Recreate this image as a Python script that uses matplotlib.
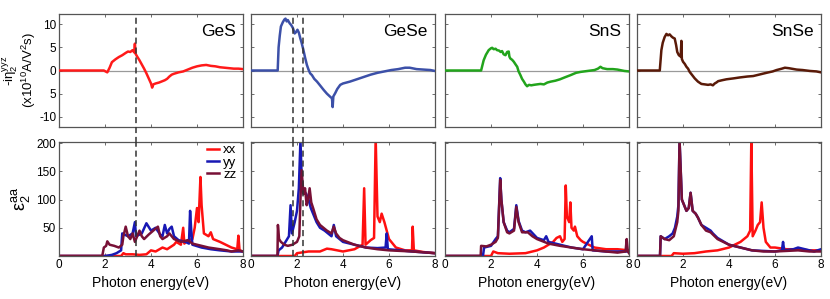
import numpy as np
import matplotlib
matplotlib.use("Agg")
import matplotlib.pyplot as plt

plt.rcParams['font.family'] = ['Liberation Sans', 'DejaVu Sans']
plt.rcParams['mathtext.default'] = 'regular'

materials = ['GeS', 'GeSe', 'SnS', 'SnSe']

# shift current -i eta_2^yyz (x10^10 A/V^2 s) as (eV, value)
ges_eta = [(0, 0), (1.95, 0), (2.1, -0.4), (2.2, 0.6), (2.3, 1.8), (2.45, 2.4), (2.6, 2.9), (2.75, 3.3),
           (2.9, 3.8), (3.0, 4.1), (3.1, 4.0), (3.2, 4.4), (3.27, 3.9), (3.3, 5.8), (3.33, 3.6), (3.4, 3.0),
           (3.5, 2.2), (3.6, 1.3), (3.7, 0.4), (3.8, -0.6), (3.9, -1.7), (4.0, -2.8), (4.05, -3.7), (4.1, -3.0),
           (4.2, -2.8), (4.35, -2.6), (4.5, -2.3), (4.6, -2.1), (4.7, -1.8), (4.8, -1.3), (4.9, -0.9), (5.0, -0.7),
           (5.2, -0.4), (5.4, -0.2), (5.6, 0.2), (5.8, 0.6), (6.0, 0.9), (6.2, 1.1), (6.4, 1.2), (6.6, 1.0),
           (6.8, 0.9), (7.0, 0.7), (7.2, 0.6), (7.4, 0.5), (7.6, 0.4), (7.8, 0.4), (8.0, 0.3)]
gese_eta = [(0, 0), (1.16, 0), (1.2, 5.0), (1.25, 7.5), (1.3, 9.5), (1.38, 10.4), (1.45, 11.0), (1.5, 11.2),
            (1.55, 10.6), (1.6, 10.9), (1.68, 10.2), (1.75, 9.8), (1.82, 9.2), (1.9, 8.0), (1.96, 8.3),
            (2.02, 8.8), (2.08, 8.2), (2.14, 7.0), (2.2, 6.0), (2.28, 4.4), (2.35, 2.8), (2.43, 1.2), (2.5, 0.2),
            (2.57, -0.6), (2.65, -1.0), (2.75, -1.8), (2.87, -2.4), (3.0, -3.2), (3.16, -4.2), (3.3, -5.0),
            (3.45, -5.7), (3.52, -6.0), (3.55, -7.9), (3.58, -5.6), (3.66, -4.9), (3.75, -4.0), (3.88, -3.1),
            (4.0, -2.8), (4.3, -2.4), (4.6, -1.9), (4.9, -1.4), (5.2, -0.9), (5.5, -0.5), (5.8, -0.2), (6.1, 0.1),
            (6.4, 0.3), (6.7, 0.6), (6.9, 0.6), (7.2, 0.3), (7.5, 0.2), (7.8, 0.1), (8.0, -0.1)]
sns_eta = [(0, 0), (1.57, 0), (1.62, 1.0), (1.68, 2.2), (1.78, 3.4), (1.9, 4.4), (2.0, 4.8), (2.05, 4.9),
           (2.12, 4.6), (2.2, 4.7), (2.26, 4.4), (2.35, 4.3), (2.42, 4.0), (2.48, 4.2), (2.55, 3.5), (2.63, 3.3),
           (2.7, 4.0), (2.77, 4.1), (2.8, 3.0), (2.84, 2.6), (2.92, 2.3), (2.99, 1.9), (3.07, 1.3), (3.14, 0.8),
           (3.2, -0.2), (3.28, -1.0), (3.35, -1.8), (3.43, -2.4), (3.5, -3.0), (3.57, -3.4), (3.65, -3.1),
           (3.75, -3.2), (3.86, -3.1), (4.0, -3.0), (4.15, -2.9), (4.3, -3.0), (4.45, -2.6), (4.6, -2.4),
           (4.8, -2.2), (5.0, -1.9), (5.2, -1.5), (5.46, -1.0), (5.7, -0.5), (5.9, -0.3), (6.2, -0.1), (6.5, 0.1),
           (6.65, 0.4), (6.76, 0.8), (6.85, 0.5), (7.05, 0.3), (7.3, 0.3), (7.5, 0.2), (7.8, -0.1), (8.0, -0.2)]
snse_eta = [(0, 0), (0.99, 0), (1.03, 2.5), (1.06, 4.4), (1.12, 6.0), (1.2, 7.2), (1.28, 7.9), (1.35, 7.6),
            (1.42, 7.8), (1.49, 7.4), (1.56, 7.1), (1.64, 6.9), (1.7, 5.5), (1.75, 4.0), (1.82, 3.3), (1.9, 3.0),
            (1.93, 6.4), (1.95, 2.5), (2.0, 1.9), (2.08, 1.4), (2.15, 0.8), (2.22, 0.4), (2.29, -0.3), (2.4, -1.0),
            (2.51, -1.7), (2.65, -2.4), (2.8, -2.9), (2.95, -3.0), (3.09, -3.1), (3.2, -3.0), (3.3, -3.2),
            (3.38, -2.8), (3.45, -2.6), (3.53, -2.3), (3.7, -2.1), (3.89, -1.9), (4.2, -1.7), (4.47, -1.5),
            (4.8, -1.3), (5.05, -1.2), (5.3, -0.9), (5.63, -0.5), (5.9, -0.2), (6.07, 0.1), (6.3, 0.4),
            (6.43, 0.6), (6.6, 0.5), (6.94, 0.2), (7.2, 0.1), (7.52, -0.1), (7.8, -0.2), (8.0, -0.4)]

# dielectric function eps_2^aa, (eV, value)
ges_xx = [(0, 0), (2.7, 0), (2.8, 5), (2.9, 3), (3.2, 3), (3.5, 2), (3.8, 3), (4.0, 10), (4.2, 8), (4.5, 15),
          (4.7, 12), (5.0, 20), (5.1, 25), (5.3, 20), (5.4, 50), (5.45, 22), (5.6, 28), (5.8, 30), (5.9, 50),
          (6.0, 85), (6.07, 60), (6.15, 140), (6.2, 90), (6.3, 40), (6.5, 35), (6.6, 42), (6.7, 30), (7.0, 25),
          (7.5, 15), (7.75, 12), (7.8, 36), (7.85, 10), (8.0, 8)]
ges_yy = [(0, 0), (2.0, 0), (2.3, 2), (2.5, 5), (2.7, 10), (2.75, 40), (3.0, 35), (3.2, 40), (3.3, 60),
          (3.35, 35), (3.6, 40), (3.8, 58), (4.0, 45), (4.2, 50), (4.4, 38), (4.5, 35), (4.6, 55), (4.7, 40),
          (4.8, 48), (4.9, 52), (5.0, 35), (5.2, 28), (5.5, 25), (5.65, 22), (5.7, 80), (5.75, 45), (5.8, 20),
          (6.2, 15), (6.6, 12), (7.0, 10), (7.5, 8), (8.0, 8)]
ges_zz = [(0, 0), (1.88, 0), (1.95, 15), (2.05, 18), (2.1, 26), (2.2, 20), (2.4, 18), (2.6, 15), (2.75, 20),
          (2.8, 35), (2.9, 52), (3.0, 35), (3.1, 30), (3.2, 40), (3.3, 25), (3.4, 35), (3.5, 45), (3.6, 35),
          (3.7, 30), (3.9, 38), (4.1, 45), (4.3, 52), (4.4, 35), (4.5, 30), (4.7, 35), (4.8, 40), (5.0, 30),
          (5.3, 25), (5.6, 28), (5.8, 22), (6.0, 20), (6.5, 15), (7.0, 12), (7.3, 10), (7.5, 8), (7.8, 10),
          (8.0, 8)]
gese_xx = [(0, 0), (1.9, 0), (2.0, 5), (2.5, 8), (3.0, 8), (3.3, 13), (3.5, 12), (4.0, 8), (4.5, 12),
           (4.85, 20), (4.92, 120), (4.98, 20), (5.2, 28), (5.35, 32), (5.42, 210), (5.5, 70), (5.6, 60),
           (5.68, 75), (5.8, 60), (5.9, 45), (6.0, 30), (6.3, 15), (6.7, 10), (7.0, 10), (7.03, 52), (7.08, 10),
           (7.5, 7), (8.0, 5)]
gese_yy = [(0, 0), (1.15, 0), (1.2, 10), (1.35, 15), (1.5, 25), (1.65, 35), (1.72, 90), (1.78, 40), (1.9, 60),
           (2.0, 80), (2.08, 120), (2.15, 205), (2.22, 120), (2.3, 115), (2.4, 110), (2.5, 100), (2.6, 85),
           (2.7, 75), (2.85, 60), (3.0, 50), (3.2, 45), (3.5, 35), (3.6, 55), (3.7, 35), (4.0, 25), (4.5, 20),
           (5.0, 15), (5.5, 14), (5.85, 15), (5.9, 40), (5.95, 12), (6.5, 10), (7.0, 8), (8.0, 5)]
gese_zz = [(0, 0), (1.15, 0), (1.17, 55), (1.22, 30), (1.3, 25), (1.45, 20), (1.6, 18), (1.8, 20), (2.0, 25),
           (2.1, 35), (2.15, 100), (2.2, 152), (2.28, 110), (2.35, 120), (2.42, 90), (2.48, 100), (2.55, 120),
           (2.62, 95), (2.7, 85), (2.85, 65), (3.0, 55), (3.15, 50), (3.3, 45), (3.5, 40), (3.6, 52), (3.7, 40),
           (3.85, 32), (4.0, 28), (4.5, 20), (5.0, 15), (5.5, 12), (6.0, 10), (7.0, 8), (8.0, 5)]
sns_xx = [(0, 0), (2.0, 0), (2.1, 8), (2.3, 5), (2.8, 4), (3.5, 5), (4.0, 10), (4.3, 15), (4.5, 20), (4.7, 25),
          (4.85, 32), (5.0, 35), (5.1, 25), (5.2, 30), (5.25, 125), (5.3, 70), (5.4, 60), (5.45, 95), (5.5, 50),
          (5.6, 45), (5.65, 52), (5.75, 35), (5.9, 28), (6.0, 25), (6.5, 15), (7.0, 12), (7.5, 12), (8.0, 10)]
sns_yy = [(0, 0), (1.65, 0), (1.7, 15), (2.0, 18), (2.2, 30), (2.3, 35), (2.4, 138), (2.45, 100), (2.55, 60),
          (2.7, 45), (2.8, 42), (3.0, 48), (3.1, 90), (3.2, 62), (3.35, 45), (3.5, 42), (3.7, 45), (4.0, 32),
          (4.3, 28), (4.4, 35), (4.5, 25), (5.0, 20), (5.5, 15), (6.0, 12), (6.38, 35), (6.42, 10), (7.0, 8),
          (7.5, 8), (8.0, 8)]
sns_zz = [(0, 0), (1.55, 0), (1.57, 18), (1.8, 17), (2.0, 20), (2.2, 25), (2.3, 32), (2.4, 135), (2.45, 100),
          (2.55, 60), (2.7, 42), (2.8, 40), (3.0, 45), (3.1, 87), (3.2, 60), (3.35, 42), (3.6, 42), (3.8, 35),
          (4.0, 30), (4.5, 22), (5.0, 18), (5.5, 15), (6.0, 12), (6.5, 10), (7.0, 8), (7.5, 6), (7.85, 8),
          (7.9, 30), (7.95, 8), (8.0, 5)]
snse_xx = [(0, 0), (1.5, 0), (1.6, 5), (2.0, 4), (2.5, 5), (3.0, 8), (3.5, 10), (4.0, 15), (4.5, 25), (4.8, 35),
           (4.92, 45), (4.97, 205), (5.03, 35), (5.15, 45), (5.25, 55), (5.35, 60), (5.42, 95), (5.5, 50),
           (5.6, 25), (5.8, 15), (6.0, 15), (6.5, 12), (7.0, 12), (7.5, 10), (8.0, 10)]
snse_yy = [(0, 0), (1.0, 0), (1.03, 35), (1.2, 30), (1.4, 35), (1.55, 40), (1.65, 50), (1.75, 70), (1.8, 90),
           (1.85, 205), (1.95, 100), (2.05, 90), (2.15, 80), (2.25, 85), (2.33, 112), (2.42, 80), (2.55, 75),
           (2.65, 68), (2.8, 55), (3.0, 50), (3.2, 45), (3.3, 40), (3.5, 32), (4.0, 20), (4.5, 15), (5.0, 10),
           (6.0, 8), (6.3, 10), (6.35, 25), (6.4, 10), (6.8, 12), (7.0, 15), (7.5, 10), (7.7, 8), (8.0, 12)]
snse_zz = [(0, 0), (1.0, 0), (1.03, 35), (1.2, 30), (1.4, 28), (1.6, 35), (1.75, 60), (1.8, 80), (1.85, 205),
           (1.95, 100), (2.05, 90), (2.15, 80), (2.25, 85), (2.33, 112), (2.42, 80), (2.55, 75), (2.65, 68),
           (2.8, 55), (3.0, 45), (3.2, 42), (3.3, 38), (3.5, 30), (4.0, 20), (4.5, 15), (5.0, 10), (5.5, 8),
           (6.0, 8), (7.0, 10), (7.5, 8), (8.0, 8)]

eta_data = [ges_eta, gese_eta, sns_eta, snse_eta]
eps_data = [(ges_xx, ges_yy, ges_zz), (gese_xx, gese_yy, gese_zz),
            (sns_xx, sns_yy, sns_zz), (snse_xx, snse_yy, snse_zz)]
eta_colors = ['#ff1a1a', '#3c50a8', '#22a41c', '#5a1a08']
eps_colors = ['#ff1010', '#1818b4', '#781036']
eps_labels = ['xx', 'yy', 'zz']
dashed_x = [[3.33], [1.82, 2.28], [], []]

eta_ticks = [10, 5, 0, -5, -10]
eta_ticklabels = ['10', '5', '0', '5', '-10']
eps_ticks = [50, 100, 150, 200]
x_ticks = [0, 2, 4, 6, 8]

W, H = 830, 299
fig = plt.figure(figsize=(W / 100, H / 100), dpi=100)

lefts = [59, 251, 445, 637]
pw = 184
spine_col = '#555555'

for i, mat in enumerate(materials):
    ax_t = fig.add_axes([lefts[i] / W, 1 - 127 / H, pw / W, 113 / H])
    ax_b = fig.add_axes([lefts[i] / W, 1 - 256 / H, pw / W, 114 / H])

    ax_t.axhline(0, color='#9a9a9a', lw=0.9, zorder=1)
    e = np.array(eta_data[i])
    ax_t.plot(e[:, 0], e[:, 1], color=eta_colors[i], lw=1.8, zorder=3)
    ax_t.set_xlim(0, 8)
    ax_t.set_ylim(-12.2, 12.2)
    ax_t.set_xticks(x_ticks)
    ax_t.set_xticklabels([])
    ax_t.set_yticks(eta_ticks)
    ax_t.text(0.96, 0.91, mat, transform=ax_t.transAxes, ha='right', va='top', fontsize=12.5)

    for j in range(3):
        d = np.array(eps_data[i][j])
        ax_b.plot(d[:, 0], d[:, 1], color=eps_colors[j], lw=1.8, label=eps_labels[j])
    ax_b.set_xlim(0, 8)
    ax_b.set_ylim(0, 202)
    ax_b.set_xticks(x_ticks)
    ax_b.set_yticks(eps_ticks)
    ax_b.set_xlabel('Photon energy(eV)', fontsize=10, labelpad=4)

    if i == 0:
        ax_t.set_yticklabels(eta_ticklabels)
        ax_t.set_ylabel('-i$\\eta_2^{yyz}$\n(x10$^{10}$A/V$^2$s)', fontsize=9.5, labelpad=1,
                        linespacing=0.95)
        ax_b.set_ylabel('$\\varepsilon_2^{aa}$', fontsize=13, labelpad=3)
        ax_b.legend(loc='upper right', fontsize=9.5, frameon=False, handlelength=0.9,
                    handletextpad=0.3, labelspacing=0.0, borderaxespad=0.1,
                    bbox_to_anchor=(1.0, 1.04))
    else:
        ax_t.set_yticklabels([])
        ax_b.set_yticklabels([])

    for ax in (ax_t, ax_b):
        ax.tick_params(direction='in', length=2.5, width=0.6, colors=spine_col,
                       labelcolor='black', labelsize=8.5, top=True, right=True, pad=2)
        for s in ax.spines.values():
            s.set_color(spine_col)
            s.set_linewidth(0.9)

    # dashed markers run through both panels
    for xd in dashed_x[i]:
        ax_t.axvline(xd, ymin=-0.14, ymax=1, color='#333333', lw=1.1, ls=(0, (4, 2.5)),
                     clip_on=False, zorder=5)
        ax_b.axvline(xd, color='#333333', lw=1.1, ls=(0, (4, 2.5)), zorder=5)

fig.savefig('out.png', dpi=100)
